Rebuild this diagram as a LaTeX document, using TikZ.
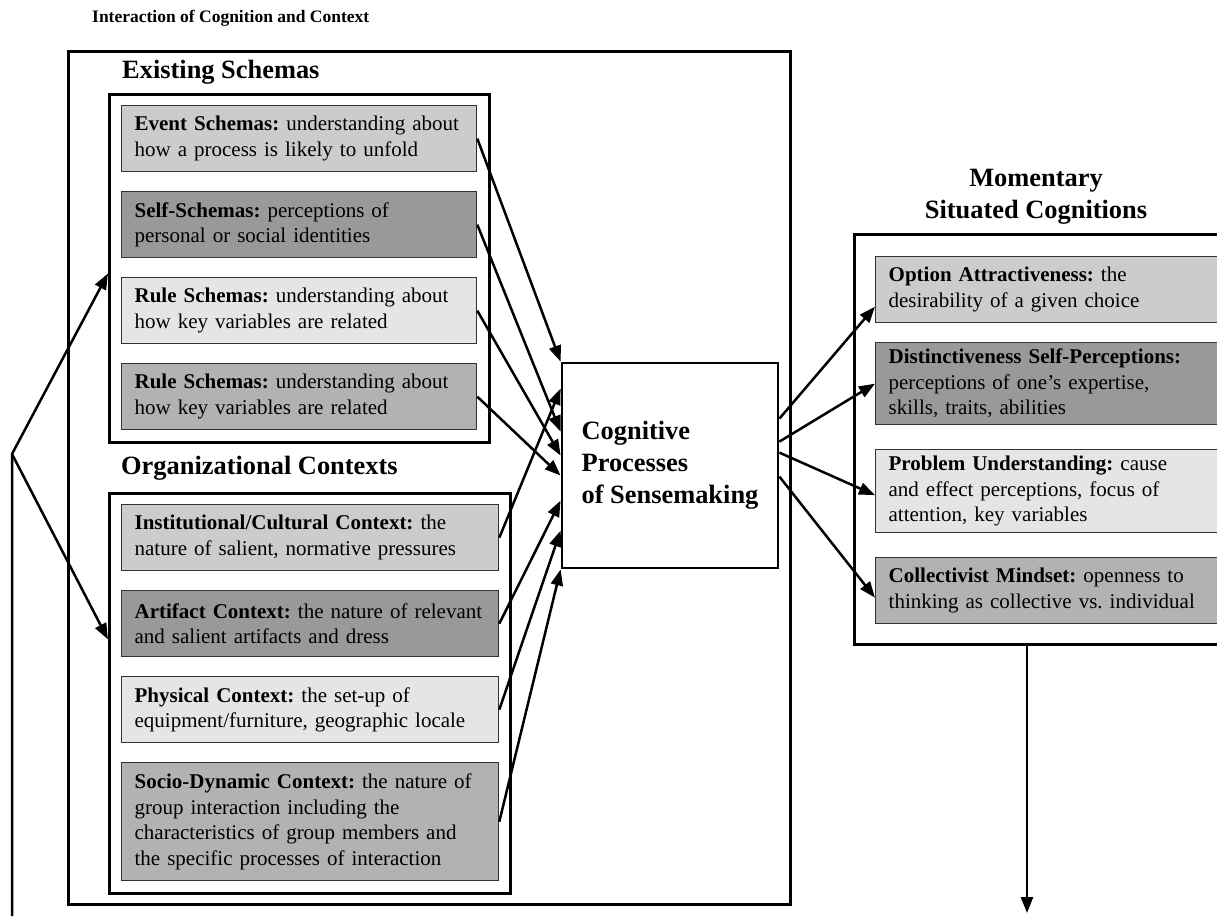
\documentclass[tikz,border=0pt]{standalone}
\usepackage{fontspec}
\setmainfont{Liberation Serif}
\usepackage{tikz}
\usetikzlibrary{arrows.meta, shapes}

\newcommand{\boxfont}{\fontsize{21}{25.5}\selectfont\frenchspacing}
\newcommand{\headfont}{\fontsize{26.4}{32}\selectfont\bfseries}
\newcommand{\titlefont}{\fontsize{17.5}{21}\selectfont\bfseries}

\tikzset{
  schemabox/.style={draw=black!80, line width=1.3pt, anchor=north west, align=left,
    inner xsep=13pt, inner ysep=4pt, font=\boxfont, minimum height=66pt, text width=329pt},
  ctxbox/.style={schemabox, text width=351pt},
  cogbox/.style={schemabox, text width=344pt},
  gLight/.style={fill=black!20},
  gDark/.style={fill=black!40},
  gPale/.style={fill=black!10},
  gMid/.style={fill=black!30}
}

\begin{document}
\begin{tikzpicture}[x=1pt, y=-1pt]
\useasboundingbox (0,0) rectangle (1217,922);
\clip (0,0) rectangle (1217,922);

% frames
\begin{scope}[every node/.style={draw=black, line width=2.8pt, anchor=north west, inner sep=0pt}]
  \node[minimum width=722pt, minimum height=853pt] (outer) at (67,50) {};
  \node[minimum width=380pt, minimum height=348pt] (exist) at (108,93) {};
  \node[minimum width=401pt, minimum height=400pt] (org) at (108,492) {};
  \node[minimum width=420pt, minimum height=410pt] (mom) at (853,233) {};
  \node[anchor=center, minimum width=216pt, minimum height=205pt, align=left, font=\headfont]
    (cog) at (670,465.5) {Cognitive\\Processes\\of Sensemaking};
\end{scope}

% headings
\node[anchor=west, inner sep=0pt, font=\titlefont] (title) at (92,18) {Interaction of Cognition and Context};
\begin{scope}[every node/.style={anchor=west, inner sep=0pt, font=\headfont}]
  \node (existT) at (122,72) {Existing Schemas};
  \node (orgT) at (121,468) {Organizational Contexts};
  \node[anchor=center, align=center] (momT) at (1036,197) {Momentary\\Situated Cognitions};
\end{scope}

% existing schemas
\node[schemabox, gLight] (event) at (121,105) {\textbf{Event Schemas:} understanding about\\how a process is likely to unfold};
\node[schemabox, gDark] (self) at (121,191) {\textbf{Self-Schemas:} perceptions of\\personal or social identities};
\node[schemabox, gPale] (ruleA) at (121,277) {\textbf{Rule Schemas:} understanding about\\how key variables are related};
\node[schemabox, gMid] (ruleB) at (121,363) {\textbf{Rule Schemas:} understanding about\\how key variables are related};

% organizational contexts
\node[ctxbox, gLight] (inst) at (121,504) {\textbf{Institutional/Cultural Context:} the\\nature of salient, normative pressures};
\node[ctxbox, gDark] (artifact) at (121,590) {\textbf{Artifact Context:} the nature of relevant\\and salient artifacts and dress};
\node[ctxbox, gPale] (physical) at (121,676) {\textbf{Physical Context:} the set-up of\\equipment/furniture, geographic locale};
\node[ctxbox, gMid, minimum height=118pt] (socio) at (121,762) {\textbf{Socio-Dynamic Context:} the nature of\\group interaction including the\\characteristics of group members and\\the specific processes of interaction};

% momentary situated cognitions
\node[cogbox, gLight] (option) at (875,256) {\textbf{Option Attractiveness:} the\\desirability of a given choice};
\node[cogbox, gDark, minimum height=82pt] (distinct) at (875,342) {\textbf{Distinctiveness Self-Perceptions:}\\perceptions of one’s expertise,\\skills, traits, abilities};
\node[cogbox, gPale, minimum height=83pt] (problem) at (875,449) {\textbf{Problem Understanding:} cause\\and effect perceptions, focus of\\attention, key variables};
\node[cogbox, gMid] (collect) at (875,557) {\textbf{Collectivist Mindset:} openness to\\thinking as collective vs. individual};

\coordinate (fork) at (12,454);
\coordinate (loopEnd) at (12,916);
\coordinate (momOut) at (1027,913);

\begin{scope}[>={Triangle[length=16pt, width=12pt]},
              every edge/.style={draw=black, line width=2.5pt}]
  \path[->] (event.east) edge (cog.north west);
  \path[->] (self.east) edge ([yshift=-70pt]cog.north west);
  \path[->] (ruleA.east) edge ([yshift=-94pt]cog.north west);
  \path[->] (ruleB.east) edge ([yshift=-114pt]cog.north west);
  \path[->] (inst.east) edge ([yshift=-27pt]cog.north west);
  \path[->] (artifact.east) edge ([yshift=-139pt]cog.north west);
  \path[->] (physical.east) edge ([yshift=-169pt]cog.north west);
  \path[->] (socio.east) edge (cog.south west);
  \path[->] ([yshift=-57pt]cog.north east) edge ([yshift=-17pt]option.west);
  \path[->] ([yshift=-80pt]cog.north east) edge (distinct.west);
  \path[->] ([yshift=-91pt]cog.north east) edge ([yshift=-4pt]problem.west);
  \path[->] ([yshift=-115pt]cog.north east) edge ([yshift=-7pt]collect.west);
  \path[->] ([xshift=174pt]mom.south west) edge (momOut);
\end{scope}
\begin{scope}[>={Triangle[length=16pt, width=12pt]}, line width=2.5pt]
  \draw[->] (loopEnd) -- (fork) -- ([yshift=-5pt]exist.west);
  \draw[->] (fork) -- ([yshift=54pt]org.west);
\end{scope}
\end{tikzpicture}
\end{document}
